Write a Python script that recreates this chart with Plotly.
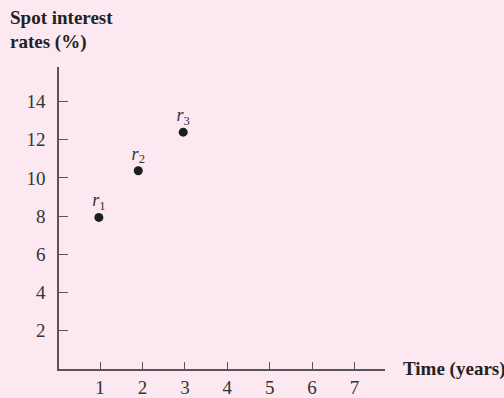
import plotly.graph_objects as go

# spot rates
years = [0.97, 1.9, 2.96]
rates = [7.93, 10.37, 12.39]
labels = ["<i>r</i><sub>1</sub>", "<i>r</i><sub>2</sub>", "<i>r</i><sub>3</sub>"]

x_ticks = [1, 2, 3, 4, 5, 6, 7]
y_ticks = [2, 4, 6, 8, 10, 12, 14]

BG = "#fce8f1"
AXIS = "#5a5458"
SERIF = "Liberation Serif"

# plot area in pixels, used to place the paper-referenced titles
L, T, W, H = 59, 67, 326, 302


def px_x(p):
    return (p - L) / W


def px_y(p):
    return (T + H - p) / H


fig = go.Figure()
fig.add_trace(go.Scatter(
    x=years, y=rates, mode="markers+text",
    text=labels, textposition="top center",
    textfont=dict(family=SERIF, size=18, color="#333"),
    marker=dict(size=9, color="#1e1e1e"),
    cliponaxis=False, showlegend=False, hoverinfo="skip",
))

title_font = dict(family=SERIF, size=19, color="#222")
fig.update_layout(
    width=504, height=398,
    margin=dict(l=L, r=504 - L - W, t=T, b=398 - T - H),
    paper_bgcolor=BG, plot_bgcolor=BG,
    font=dict(family=SERIF, size=19, color="#333"),
    annotations=[
        dict(text="<b>Spot interest</b>", xref="paper", yref="paper",
             x=px_x(8), y=px_y(18), xanchor="left", yanchor="middle",
             showarrow=False, font=title_font),
        dict(text="<b>rates (%)</b>", xref="paper", yref="paper",
             x=px_x(8), y=px_y(42), xanchor="left", yanchor="middle",
             showarrow=False, font=title_font),
        dict(text="<b>Time (years)</b>", xref="paper", yref="paper",
             x=px_x(401), y=px_y(369), xanchor="left", yanchor="middle",
             showarrow=False, font=title_font),
    ],
)
fig.update_xaxes(
    range=[0.03, 7.72], showgrid=False, zeroline=False, automargin=False,
    showline=True, linecolor=AXIS, linewidth=1.5,
    tickvals=x_ticks, ticks="inside", ticklen=7, tickcolor=AXIS, tickwidth=1.2,
    ticklabelstandoff=0,
)
fig.update_yaxes(
    range=[0, 15.8], showgrid=False, zeroline=False, automargin=False,
    showline=True, linecolor=AXIS, linewidth=1.5,
    tickvals=y_ticks, ticks="inside", ticklen=9, tickcolor=AXIS, tickwidth=1.2,
    ticklabelstandoff=8,
)

fig.write_html("out.html", config={"displayModeBar": False},
               post_script="document.body.style.margin='0';")
